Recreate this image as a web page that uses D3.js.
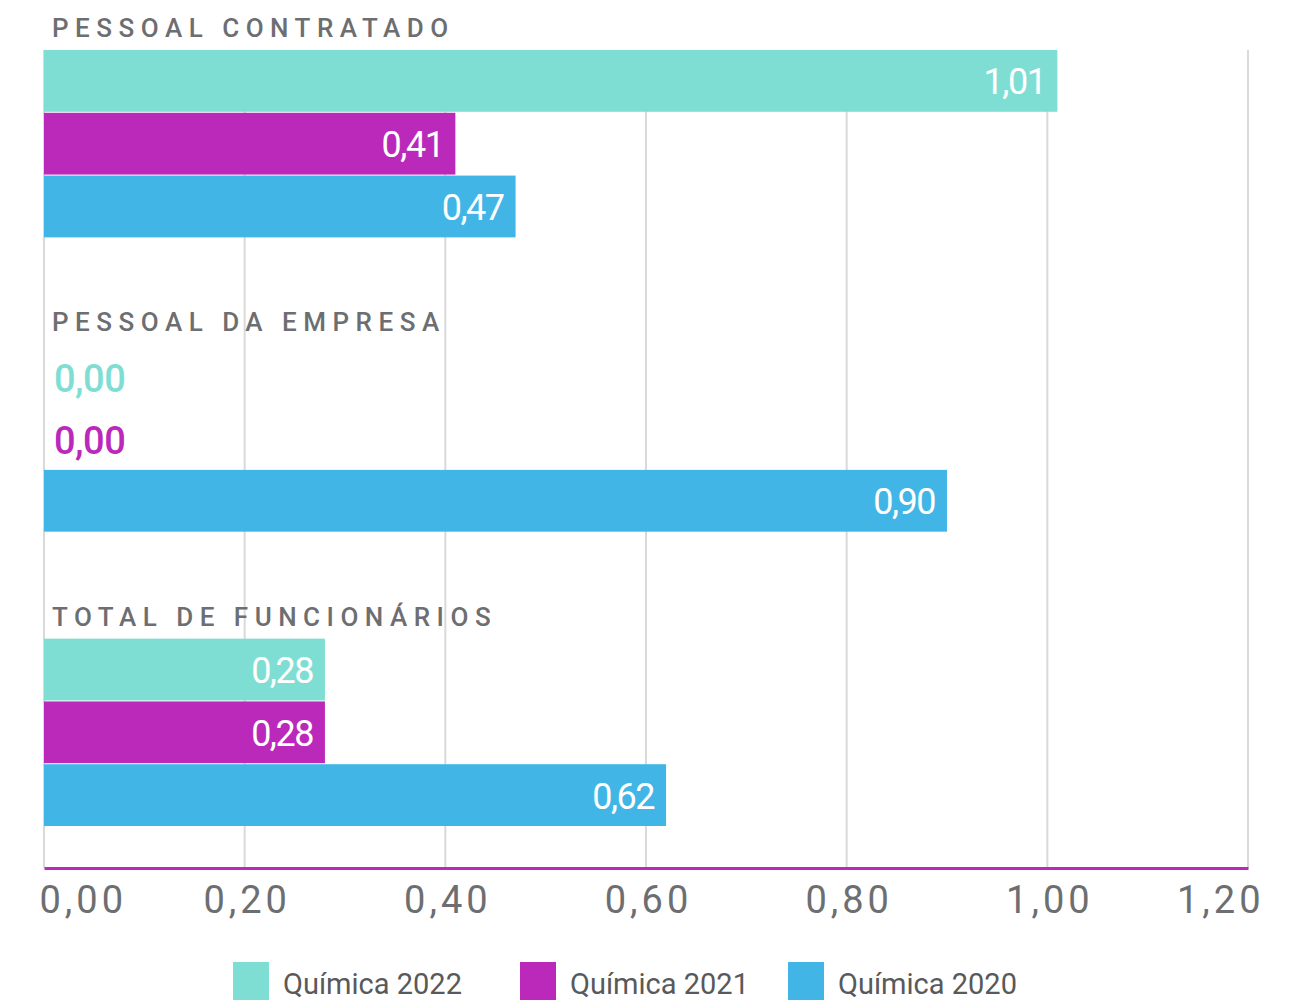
<!DOCTYPE html>
<html>
<head>
<meta charset="utf-8">
<script src="https://cdnjs.cloudflare.com/ajax/libs/d3/7.8.5/d3.min.js"></script>
<style>
  body { margin: 0; background: #fff; }
  svg { display: block; }
  text { font-family: Roboto, "DejaVu Sans", sans-serif; }
</style>
</head>
<body>
<div id="chart"></div>
<script>
// categories (groups), top to bottom
var groups = ["PESSOAL CONTRATADO", "PESSOAL DA EMPRESA", "TOTAL DE FUNCIONÁRIOS"];
// series, in drawing order within each group
var series = ["Química 2022", "Química 2021", "Química 2020"];
var colors = ["#7FDED4", "#BB29BB", "#41B6E6"];
// values per series, one per group
var quimica2022 = [1.01, 0.00, 0.28];
var quimica2021 = [0.41, 0.00, 0.28];
var quimica2020 = [0.47, 0.90, 0.62];
var tickValues = [0, 0.2, 0.4, 0.6, 0.8, 1.0, 1.2];

var width = 1302, height = 1000;
var plotLeft = 44, plotRight = 1248, plotTop = 50, plotBottom = 827, axisY = 868;

var fmt = function (v) { return d3.format(".2f")(v).replace(".", ","); };

var svg = d3.select("#chart").append("svg")
    .attr("width", width).attr("height", height);

var x = d3.scaleLinear().domain([0, 1.2]).range([plotLeft, plotRight]);
var y0 = d3.scaleBand().domain(groups).range([plotTop, plotBottom]).paddingInner(0.36);
var y1 = d3.scaleBand().domain(series).range([0, y0.bandwidth()]);
var color = d3.scaleOrdinal().domain(series).range(colors);

var data = groups.map(function (g, i) {
    return {
        group: g,
        items: [
            { series: series[0], value: quimica2022[i] },
            { series: series[1], value: quimica2021[i] },
            { series: series[2], value: quimica2020[i] }
        ]
    };
});

// vertical grid lines behind the bars
svg.append("g").selectAll("line").data(tickValues).enter().append("line")
    .attr("x1", function (d) { return x(d); })
    .attr("x2", function (d) { return x(d); })
    .attr("y1", plotTop)
    .attr("y2", axisY)
    .attr("stroke", "#D9D9D9")
    .attr("stroke-width", 2);

var g = svg.append("g").selectAll("g.group").data(data).enter().append("g")
    .attr("class", "group")
    .attr("transform", function (d) { return "translate(0," + y0(d.group) + ")"; });

// group titles
g.append("text")
    .attr("x", 52)
    .attr("y", -13)
    .attr("fill", "#6D6E71")
    .attr("font-size", 26)
    .attr("font-weight", 500)
    .attr("letter-spacing", 6.5)
    .text(function (d) { return d.group; });

var bar = g.selectAll("g.bar").data(function (d) { return d.items; }).enter().append("g")
    .attr("class", "bar")
    .attr("transform", function (d) { return "translate(0," + y1(d.series) + ")"; });

bar.append("rect")
    .attr("x", x(0))
    .attr("y", 0)
    .attr("width", function (d) { return x(d.value) - x(0); })
    .attr("height", y1.bandwidth() - 1)
    .attr("fill", function (d) { return color(d.series); });

bar.append("text")
    .attr("x", function (d) { return d.value > 0 ? x(d.value) - 12 : x(0) + 10; })
    .attr("y", function (d) { return y1.bandwidth() / 2 + (d.value > 0 ? 13 : 16); })
    .attr("text-anchor", function (d) { return d.value > 0 ? "end" : "start"; })
    .attr("fill", function (d) { return d.value > 0 ? "#fff" : color(d.series); })
    .attr("font-size", function (d) { return d.value > 0 ? 36 : 38; })
    .attr("font-weight", function (d) { return d.value > 0 ? 400 : 500; })
    .attr("letter-spacing", function (d) { return d.value > 0 ? -1.5 : -0.5; })
    .text(function (d) { return fmt(d.value); });

// x axis
var axis = svg.append("g").attr("transform", "translate(0," + axisY + ")")
    .call(d3.axisBottom(x).tickValues(tickValues).tickSize(0).tickFormat(fmt));
axis.select(".domain").attr("stroke", "#BB29BB").attr("stroke-width", 3);
axis.selectAll(".tick text")
    .attr("y", 45)
    .attr("dy", 0)
    .attr("fill", "#6D6E71")
    .attr("font-size", 38)
    .attr("font-family", "Roboto, sans-serif")
    .attr("letter-spacing", 4)
    .attr("text-anchor", function (d, i) { return i === 0 ? "start" : (i === tickValues.length - 1 ? "end" : "middle"); })
    .attr("dx", function (d, i) { return i === 0 ? -5 : (i === tickValues.length - 1 ? 16 : 2); });

// legend
var legendX = [233, 520, 788];
var legend = svg.append("g").selectAll("g").data(series).enter().append("g")
    .attr("transform", function (d, i) { return "translate(" + legendX[i] + ",962)"; });
legend.append("rect")
    .attr("width", 36).attr("height", 38)
    .attr("fill", function (d) { return color(d); });
legend.append("text")
    .attr("x", 50).attr("y", 32)
    .attr("fill", "#58595B")
    .attr("font-size", 29)
    .text(function (d) { return d; });
</script>
</body>
</html>
